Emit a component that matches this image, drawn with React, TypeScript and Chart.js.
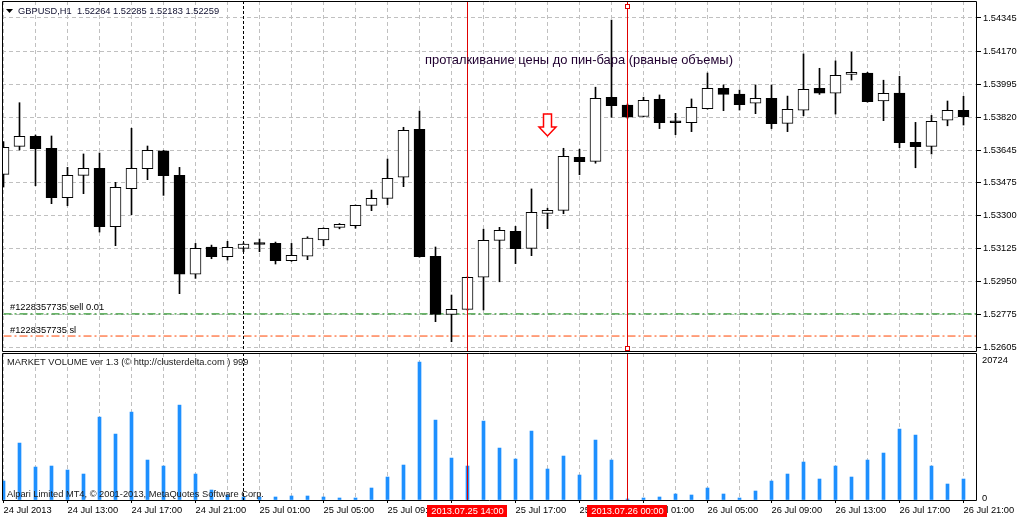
import React, { useEffect, useRef } from 'react';
import { Chart, registerables } from 'chart.js';

Chart.register(...registerables);

const FONT = '"Liberation Sans", Arial, sans-serif';

// Hourly bars: 24 Jul 2013 09:00 ... 26 Jul 2013 21:00 (index 0..60)
const opens = [
  1.53518, 1.53666, 1.53719, 1.53656, 1.53395, 1.53513, 1.53550, 1.53241, 1.53442, 1.53548,
  1.53642, 1.53513, 1.52990, 1.53134, 1.53083, 1.53127, 1.53153, 1.53153, 1.53061, 1.53085,
  1.53172, 1.53238, 1.53247, 1.53354, 1.53391, 1.53503, 1.53756, 1.53085, 1.52778, 1.52804,
  1.52974, 1.53169, 1.53217, 1.53127, 1.53312, 1.53328, 1.53608, 1.53587, 1.53926, 1.53885,
  1.53824, 1.53915, 1.53793, 1.53791, 1.53865, 1.53973, 1.53943, 1.53894, 1.53920, 1.53788,
  1.53857, 1.53973, 1.53947, 1.54047, 1.54054, 1.53906, 1.53948, 1.53688, 1.53666, 1.53804, 1.53857,
];
const highs = [
  1.53691, 1.53897, 1.53726, 1.53721, 1.53555, 1.53626, 1.53631, 1.53476, 1.53762, 1.53668,
  1.53645, 1.53555, 1.53153, 1.53144, 1.53164, 1.53155, 1.53176, 1.53160, 1.53153, 1.53188,
  1.53235, 1.53258, 1.53356, 1.53435, 1.53599, 1.53767, 1.53853, 1.53134, 1.52880, 1.52976,
  1.53228, 1.53238, 1.53243, 1.53441, 1.53339, 1.53656, 1.53651, 1.53979, 1.54334, 1.53890,
  1.53926, 1.53938, 1.53841, 1.53917, 1.54054, 1.53991, 1.53964, 1.53991, 1.53991, 1.53932,
  1.54155, 1.54079, 1.54118, 1.54165, 1.54058, 1.54016, 1.54037, 1.53793, 1.53830, 1.53906, 1.53931,
];
const lows = [
  1.53451, 1.53647, 1.53458, 1.53363, 1.53352, 1.53416, 1.53213, 1.53141, 1.53305, 1.53490,
  1.53407, 1.52887, 1.52968, 1.53072, 1.53065, 1.53109, 1.53109, 1.53044, 1.53058, 1.53067,
  1.53141, 1.53230, 1.53233, 1.53326, 1.53358, 1.53453, 1.53080, 1.52739, 1.52633, 1.52800,
  1.52801, 1.52950, 1.53046, 1.53088, 1.53231, 1.53310, 1.53516, 1.53577, 1.53820, 1.53815,
  1.53822, 1.53760, 1.53728, 1.53744, 1.53863, 1.53855, 1.53858, 1.53839, 1.53760, 1.53744,
  1.53828, 1.53941, 1.53837, 1.54017, 1.53900, 1.53802, 1.53659, 1.53553, 1.53626, 1.53775, 1.53779,
];
const closes = [
  1.53661, 1.53719, 1.53654, 1.53395, 1.53513, 1.53550, 1.53241, 1.53450, 1.53550, 1.53645,
  1.53511, 1.52990, 1.53127, 1.53083, 1.53132, 1.53150, 1.53147, 1.53061, 1.53090, 1.53181,
  1.53233, 1.53254, 1.53354, 1.53391, 1.53497, 1.53751, 1.53083, 1.52778, 1.52804, 1.52974,
  1.53169, 1.53222, 1.53125, 1.53317, 1.53328, 1.53614, 1.53585, 1.53920, 1.53881, 1.53820,
  1.53910, 1.53791, 1.53791, 1.53873, 1.53973, 1.53941, 1.53886, 1.53920, 1.53786, 1.53862,
  1.53968, 1.53947, 1.54042, 1.54058, 1.53902, 1.53947, 1.53686, 1.53664, 1.53799, 1.53857, 1.53823,
];
const volumes = [
  2850, 8550, 4950, 5100, 4500, 3900, 12450, 9900, 13200, 6000,
  5100, 14250, 3900, 1500, 750, 450, 450, 450, 600, 600,
  450, 300, 300, 1800, 3450, 5250, 20724, 12000, 6300, 5100,
  11850, 7800, 6150, 10350, 4650, 6600, 3750, 9000, 6000, 150,
  300, 450, 900, 750, 1800, 900, 300, 1350, 2850, 3900,
  5700, 3150, 5100, 3450, 6000, 7050, 10650, 9750, 5100, 2400, 3150,
];
// time labels every 4 bars (bars 0, 4, 8, ... 60)
const timeLabels = [
  '24 Jul 2013', '24 Jul 13:00', '24 Jul 17:00', '24 Jul 21:00',
  '25 Jul 01:00', '25 Jul 05:00', '25 Jul 09:00', '25 Jul 13:00',
  '25 Jul 17:00', '25 Jul 21:00', '26 Jul 01:00', '26 Jul 05:00',
  '26 Jul 09:00', '26 Jul 13:00', '26 Jul 17:00', '26 Jul 21:00',
];
const priceTicks = [1.54345, 1.5417, 1.53995, 1.5382, 1.53645, 1.53475, 1.533, 1.53125, 1.5295, 1.52775, 1.52605];
const volumeTicks = [0, 20724];

const sellLevel = 1.5278;
const slLevel = 1.52663;
const separatorBar = 15;
const crossBars = [29, 39];
const crossLabels = ['2013.07.25 14:00', '2013.07.26 00:00'];
const arrowBar = 34;
const arrowTipPrice = 1.53721;

const titleText = 'GBPUSD,H1  1.52264 1.52285 1.52183 1.52259';
const noteText = 'проталкивание цены до пин-бара (рваные объемы)';
const sellText = '#1228357735 sell 0.01';
const slText = '#1228357735 sl';
const indText = 'MARKET VOLUME ver 1.3 (© http://clusterdelta.com ) 999';
const copyText = 'Alpari Limited MT4, © 2001-2013, MetaQuotes Software Corp.';

// view / layout constants
const X_MIN = -0.09375;
const X_MAX = 60.84375;
const PRICE_MAX = 1.544349;
const PRICE_MIN = 1.525839;
const VOL_MAX = 22075.6;
const GRID = '#c0c0c0';
const RED = '#e00000';

const gridBars: number[] = [];
for (let k = 0; k <= 60; k += 2) gridBars.push(k);

function zeroPadding(s: any) {
  s.paddingTop = 0;
  s.paddingBottom = 0;
  s.paddingLeft = 0;
  s.paddingRight = 0;
}

function drawFrame(chart: any) {
  const { ctx, chartArea: a } = chart;
  ctx.save();
  ctx.strokeStyle = '#000';
  ctx.lineWidth = 1;
  ctx.beginPath();
  ctx.moveTo(a.left + 0.5, a.top + 0.5);
  ctx.lineTo(a.right - 0.5, a.top + 0.5);
  ctx.lineTo(a.right - 0.5, a.bottom + 0.5);
  ctx.lineTo(a.left + 0.5, a.bottom + 0.5);
  ctx.closePath();
  ctx.stroke();
  ctx.restore();
}

function drawVerticals(chart: any) {
  const { ctx, chartArea: a, scales } = chart;
  const xs = scales.x;
  ctx.save();
  ctx.lineWidth = 1;
  const sx = Math.floor(xs.getPixelForValue(separatorBar)) + 0.5;
  ctx.strokeStyle = '#000';
  ctx.setLineDash([3, 2]);
  ctx.beginPath();
  ctx.moveTo(sx, a.top);
  ctx.lineTo(sx, a.bottom);
  ctx.stroke();
  ctx.setLineDash([]);
  ctx.strokeStyle = RED;
  crossBars.forEach((b) => {
    const px = Math.floor(xs.getPixelForValue(b)) + 0.5;
    ctx.beginPath();
    ctx.moveTo(px, a.top);
    ctx.lineTo(px, a.bottom);
    ctx.stroke();
  });
  ctx.restore();
}

const mainOverlay = {
  id: 'mainOverlay',
  afterDatasetsDraw(chart: any) {
    const { ctx, scales } = chart;
    drawVerticals(chart);
    // arrow
    const ax = scales.x.getPixelForValue(arrowBar);
    const tip = scales.y.getPixelForValue(arrowTipPrice);
    ctx.save();
    ctx.beginPath();
    ctx.moveTo(ax - 4, tip - 22);
    ctx.lineTo(ax + 4, tip - 22);
    ctx.lineTo(ax + 4, tip - 9);
    ctx.lineTo(ax + 8.5, tip - 9);
    ctx.lineTo(ax, tip);
    ctx.lineTo(ax - 8.5, tip - 9);
    ctx.lineTo(ax - 4, tip - 9);
    ctx.closePath();
    ctx.fillStyle = '#fff';
    ctx.fill();
    ctx.strokeStyle = '#ff0000';
    ctx.lineWidth = 1.5;
    ctx.stroke();
    ctx.restore();
  },
  afterDraw(chart: any) {
    const { ctx, chartArea: a, scales } = chart;
    drawFrame(chart);
    ctx.save();
    // handles of the selected vertical line
    const hx = Math.floor(scales.x.getPixelForValue(crossBars[1])) + 0.5;
    ctx.strokeStyle = RED;
    ctx.fillStyle = '#fff';
    ctx.lineWidth = 1;
    [a.top + 3, a.bottom - 5].forEach((y) => {
      ctx.fillRect(hx - 2, y, 4, 4);
      ctx.strokeRect(hx - 2, y + 0.5, 4, 4);
    });
    // title
    ctx.fillStyle = '#000';
    ctx.beginPath();
    ctx.moveTo(6, 9);
    ctx.lineTo(13, 9);
    ctx.lineTo(9.5, 13);
    ctx.closePath();
    ctx.fill();
    ctx.font = '9.3px ' + FONT;
    ctx.textBaseline = 'middle';
    ctx.textAlign = 'left';
    ctx.fillStyle = '#101030';
    ctx.fillText(titleText, 18, 11);
    // annotation
    ctx.font = '12.9px ' + FONT;
    ctx.fillStyle = '#200030';
    ctx.fillText(noteText, 425, 60);
    // order labels
    ctx.font = '9.3px ' + FONT;
    ctx.fillStyle = '#000';
    ctx.fillText(sellText, 10, scales.y.getPixelForValue(sellLevel) - 6);
    ctx.fillText(slText, 10, scales.y.getPixelForValue(slLevel) - 6);
    ctx.restore();
  },
};

const volOverlay = {
  id: 'volOverlay',
  afterDatasetsDraw(chart: any) {
    drawVerticals(chart);
  },
  afterDraw(chart: any) {
    const { ctx, chartArea: a, scales } = chart;
    drawFrame(chart);
    ctx.save();
    ctx.font = '9.3px ' + FONT;
    ctx.textBaseline = 'middle';
    ctx.textAlign = 'left';
    ctx.fillStyle = '#202020';
    ctx.fillText(indText, 7, a.top + 9);
    ctx.fillText(copyText, 7, a.bottom - 6);
    // highlighted crosshair time labels
    crossBars.forEach((b, i) => {
      const px = Math.floor(scales.x.getPixelForValue(b)) + 0.5;
      const w = ctx.measureText(crossLabels[i]).width + 8;
      ctx.fillStyle = '#ff0000';
      ctx.fillRect(Math.round(px - w / 2), a.bottom + 5, Math.round(w), 12);
      ctx.fillStyle = '#fff';
      ctx.textAlign = 'center';
      ctx.fillText(crossLabels[i], px, a.bottom + 11.5);
    });
    ctx.restore();
  },
};

export default function App() {
  const mainRef = useRef<HTMLCanvasElement>(null);
  const volRef = useRef<HTMLCanvasElement>(null);

  useEffect(() => {
    Chart.defaults.font.family = FONT;
    Chart.defaults.font.size = 9.3;
    Chart.defaults.color = '#000';

    const bodies = opens.map((o, i) => ({ x: i, y: [o, closes[i]] }));
    const bodyColors = opens.map((o, i) => (closes[i] > o ? '#ffffff' : '#000000'));
    const wicks = lows.map((l, i) => ({ x: i, y: [l, highs[i]] }));

    const xScaleBase = {
      type: 'linear',
      min: X_MIN,
      max: X_MAX,
      offset: false,
      afterBuildTicks: (s: any) => {
        s.ticks = gridBars.map((v) => ({ value: v }));
      },
      border: { display: false, dash: [4, 3] },
    };

    const main = new Chart(mainRef.current as HTMLCanvasElement, {
      type: 'bar',
      data: {
        datasets: [
          {
            type: 'bar',
            label: 'body',
            data: bodies,
            backgroundColor: bodyColors,
            borderColor: '#000',
            borderWidth: 1,
            borderSkipped: false,
            barThickness: 11,
            grouped: false,
            minBarLength: 2,
            order: 0,
            clip: 0,
          },
          {
            type: 'bar',
            label: 'wick',
            data: wicks,
            backgroundColor: '#000',
            borderWidth: 0,
            barThickness: 1,
            grouped: false,
            order: 1,
            clip: 0,
          },
          {
            type: 'line',
            label: 'sell',
            data: [{ x: -1, y: sellLevel }, { x: 61, y: sellLevel }],
            borderColor: '#008000',
            borderWidth: 1,
            borderDash: [8, 3, 2, 3],
            pointRadius: 0,
            order: 2,
            clip: 0,
          },
          {
            type: 'line',
            label: 'sl',
            data: [{ x: -1, y: slLevel }, { x: 61, y: slLevel }],
            borderColor: '#ff4500',
            borderWidth: 1,
            borderDash: [8, 3, 2, 3],
            pointRadius: 0,
            order: 2,
            clip: 0,
          },
        ],
      } as any,
      options: {
        responsive: false,
        animation: false,
        devicePixelRatio: 1,
        events: [],
        layout: { padding: { left: 2, top: 1, right: 0, bottom: 1 } },
        plugins: { legend: { display: false }, tooltip: { enabled: false } },
        scales: {
          x: {
            ...xScaleBase,
            ticks: { display: false },
            grid: { color: GRID, drawTicks: false, offset: false },
            afterFit: (s: any) => {
              s.height = 0;
              zeroPadding(s);
            },
          },
          y: {
            position: 'right',
            min: PRICE_MIN,
            max: PRICE_MAX,
            afterBuildTicks: (s: any) => {
              s.ticks = priceTicks.map((v) => ({ value: v }));
            },
            ticks: {
              autoSkip: false,
              padding: 2,
              callback: (v: any) => Number(v).toFixed(5),
            },
            grid: { color: GRID, tickColor: '#000', tickLength: 4 },
            border: { display: false, dash: [4, 3] },
            afterFit: (s: any) => {
              s.width = 43;
              zeroPadding(s);
            },
          },
        } as any,
      },
      plugins: [mainOverlay],
    } as any);

    const vol = new Chart(volRef.current as HTMLCanvasElement, {
      type: 'bar',
      data: {
        datasets: [
          {
            label: 'volume',
            data: volumes.map((v, i) => ({ x: i, y: v })),
            backgroundColor: '#1e90ff',
            borderWidth: 0,
            barThickness: 3,
            grouped: false,
            clip: 0,
          },
        ],
      } as any,
      options: {
        responsive: false,
        animation: false,
        devicePixelRatio: 1,
        events: [],
        layout: { padding: { left: 2, top: 1, right: 0, bottom: 0 } },
        plugins: { legend: { display: false }, tooltip: { enabled: false } },
        scales: {
          x: {
            ...xScaleBase,
            ticks: {
              autoSkip: false,
              maxRotation: 0,
              minRotation: 0,
              align: 'start',
              padding: 2,
              callback: (v: any) => (v % 4 === 0 ? timeLabels[v / 4] : ''),
            },
            grid: {
              color: GRID,
              offset: false,
              tickLength: 3,
              tickColor: (c: any) => (c.tick && c.tick.value % 4 === 0 ? '#000' : 'rgba(0,0,0,0)'),
            },
            afterFit: (s: any) => {
              s.height = 20;
              zeroPadding(s);
            },
          },
          y: {
            position: 'right',
            min: 0,
            max: VOL_MAX,
            afterBuildTicks: (s: any) => {
              s.ticks = volumeTicks.map((v) => ({ value: v }));
            },
            ticks: {
              autoSkip: false,
              padding: 5,
              labelOffset: -2,
              callback: (v: any) => String(v),
            },
            grid: { drawOnChartArea: false, drawTicks: false },
            border: { display: false },
            afterFit: (s: any) => {
              s.width = 43;
              zeroPadding(s);
            },
          },
        } as any,
      },
      plugins: [volOverlay],
    } as any);

    return () => {
      main.destroy();
      vol.destroy();
    };
  }, []);

  return (
    <div style={{ position: 'fixed', left: 0, top: 0, width: 1020, height: 520, background: '#fff' }}>
      <canvas
        ref={mainRef}
        width={1020}
        height={352}
        style={{ position: 'absolute', left: 0, top: 0, width: 1020, height: 352 }}
      />
      <canvas
        ref={volRef}
        width={1020}
        height={168}
        style={{ position: 'absolute', left: 0, top: 352, width: 1020, height: 168 }}
      />
    </div>
  );
}
